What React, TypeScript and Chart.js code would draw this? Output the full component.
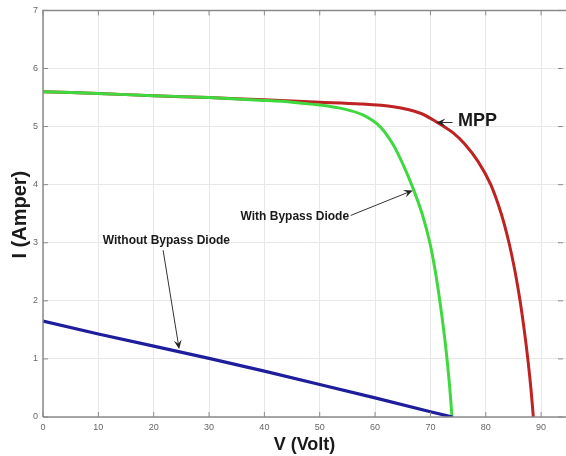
import React, { useEffect, useRef } from "react";
import { Chart, registerables } from "chart.js";

Chart.register(...registerables);

// ---- data ----
const redV = [0, 10, 20, 30, 40, 50, 57.3, 63.3, 68.2, 71.1, 74.0, 76.2, 78.6, 80.9, 82.8, 84.2, 85.3, 86.2, 86.95, 87.6, 88.15, 88.6];
const redI = [5.6, 5.57, 5.53, 5.5, 5.46, 5.42, 5.39, 5.34, 5.23, 5.08, 4.9, 4.7, 4.4, 4.0, 3.5, 3.0, 2.5, 2.0, 1.5, 1.0, 0.5, 0];

const greenV = [0, 10, 20, 30, 40, 45, 50, 54.5, 57.8, 60.9, 63.2, 64.8, 66.6, 68.5, 69.9, 70.9, 71.7, 72.4, 73.0, 73.5, 73.9];
const greenI = [5.6, 5.57, 5.53, 5.5, 5.45, 5.42, 5.37, 5.3, 5.2, 5.0, 4.7, 4.4, 4.0, 3.5, 3.0, 2.5, 2.0, 1.5, 1.0, 0.5, 0];

const blueV = [0, 10, 20, 30, 40, 50, 60, 70, 74];
const blueI = [1.65, 1.43, 1.22, 1.01, 0.79, 0.56, 0.33, 0.09, 0];

const xTicks = [0, 10, 20, 30, 40, 50, 60, 70, 80, 90];
const yTicks = [0, 1, 2, 3, 4, 5, 6, 7];

const xTitle = "V (Volt)";
const yTitle = "I (Amper)";

// annotation texts: [text, V, I, align, fontSize]
const labels: [string, number, number, CanvasTextAlign, number][] = [
  ["MPP", 75.0, 5.09, "left", 18],
  ["With Bypass Diode", 45.5, 3.44, "center", 12],
  ["Without Bypass Diode", 22.3, 3.04, "center", 12],
];
// arrows: [fromV, fromI, toV, toI]
const arrows: [number, number, number, number][] = [
  [74.0, 5.07, 71.1, 5.07],
  [55.6, 3.47, 66.8, 3.9],
  [21.7, 2.87, 24.6, 1.17],
];

const toXY = (vs: number[], is: number[]) => vs.map((v, k) => ({ x: v, y: is[k] }));

const overlay = {
  id: "overlay",
  afterDatasetsDraw(chart: any) {
    const { ctx, chartArea: a, scales } = chart;
    const xs = scales.x, ys = scales.y;
    ctx.save();
    // frame
    ctx.strokeStyle = "#8a8a8a";
    ctx.lineWidth = 1.5;
    ctx.beginPath();
    ctx.moveTo(a.left, a.bottom);
    ctx.lineTo(a.left, a.top);
    ctx.lineTo(a.right, a.top);
    ctx.moveTo(a.left, a.bottom);
    ctx.lineTo(a.right, a.bottom);
    ctx.stroke();
    // inward ticks
    ctx.lineWidth = 1;
    ctx.strokeStyle = "#8a8a8a";
    ctx.beginPath();
    xTicks.forEach((t) => {
      const px = xs.getPixelForValue(t);
      ctx.moveTo(px, a.bottom);
      ctx.lineTo(px, a.bottom - 5);
      ctx.moveTo(px, a.top);
      ctx.lineTo(px, a.top + 5);
    });
    yTicks.forEach((t) => {
      const py = ys.getPixelForValue(t);
      ctx.moveTo(a.left, py);
      ctx.lineTo(a.left + 5, py);
      ctx.moveTo(a.right - 3, py);
      ctx.lineTo(a.right - 8, py);
    });
    ctx.stroke();

    // arrows
    ctx.strokeStyle = "#333";
    ctx.fillStyle = "#222";
    ctx.lineWidth = 1;
    arrows.forEach(([v0, i0, v1, i1]) => {
      const x0 = xs.getPixelForValue(v0), y0 = ys.getPixelForValue(i0);
      const x1 = xs.getPixelForValue(v1), y1 = ys.getPixelForValue(i1);
      const ang = Math.atan2(y1 - y0, x1 - x0);
      ctx.beginPath();
      ctx.moveTo(x0, y0);
      ctx.lineTo(x1 - 4 * Math.cos(ang), y1 - 4 * Math.sin(ang));
      ctx.stroke();
      const L = 9, W = 4;
      ctx.beginPath();
      ctx.moveTo(x1, y1);
      ctx.lineTo(x1 - L * Math.cos(ang) + W * Math.sin(ang), y1 - L * Math.sin(ang) - W * Math.cos(ang));
      ctx.lineTo(x1 - 0.6 * L * Math.cos(ang), y1 - 0.6 * L * Math.sin(ang));
      ctx.lineTo(x1 - L * Math.cos(ang) - W * Math.sin(ang), y1 - L * Math.sin(ang) + W * Math.cos(ang));
      ctx.closePath();
      ctx.fill();
    });

    // labels
    ctx.fillStyle = "#1a1a1a";
    ctx.textBaseline = "middle";
    labels.forEach(([txt, v, i, al, fs]) => {
      ctx.font = `bold ${fs}px "Liberation Sans", Arial, sans-serif`;
      ctx.textAlign = al;
      ctx.fillText(txt, xs.getPixelForValue(v), ys.getPixelForValue(i));
    });

    // axis titles
    ctx.font = 'bold 18px "Liberation Sans", Arial, sans-serif';
    ctx.textAlign = "center";
    ctx.fillText(xTitle, (a.left + a.right) / 2, a.bottom + 28);
    ctx.save();
    ctx.translate(20, (a.top + a.bottom) / 2 + 1);
    ctx.rotate(-Math.PI / 2);
    ctx.font = 'bold 20px "Liberation Sans", Arial, sans-serif';
    ctx.fillText(yTitle, 0, 0);
    ctx.restore();
    ctx.restore();
  },
};

export default function App() {
  const ref = useRef<HTMLCanvasElement | null>(null);
  useEffect(() => {
    if (!ref.current) return;
    const chart = new Chart(ref.current, {
      type: "line",
      data: {
        datasets: [
          { label: "Without Bypass Diode", data: toXY(blueV, blueI), borderColor: "#1e1e9c", borderWidth: 3.2, pointRadius: 0, tension: 0, fill: false },
          { label: "With Bypass Diode", data: toXY(greenV, greenI), borderColor: "#3fd83f", borderWidth: 3, pointRadius: 0, tension: 0.3, fill: false },
          { label: "MPP", data: toXY(redV, redI), borderColor: "#bf2222", borderWidth: 3, pointRadius: 0, tension: 0.3, fill: false },
        ],
      },
      options: {
        responsive: false,
        animation: false,
        events: [],
        layout: { padding: { top: 10, right: 0, left: 0, bottom: 0 } },
        plugins: { legend: { display: false }, tooltip: { enabled: false }, title: { display: false } },
        scales: {
          x: {
            type: "linear",
            min: 0,
            max: 94.5,
            afterBuildTicks: (s: any) => { s.ticks = xTicks.map((v) => ({ value: v })); },
            afterFit: (s: any) => { s.height = 39; },
            grid: { color: "#e8e8e8", drawTicks: false, lineWidth: 1 },
            border: { display: false },
            ticks: { color: "#666", font: { size: 9, family: '"Liberation Sans", Arial, sans-serif' }, padding: 5, maxRotation: 0, autoSkip: false },
          },
          y: {
            type: "linear",
            min: 0,
            max: 7,
            afterBuildTicks: (s: any) => { s.ticks = yTicks.map((v) => ({ value: v })); },
            afterFit: (s: any) => { s.width = 43; },
            grid: { color: "#e8e8e8", drawTicks: false, lineWidth: 1 },
            border: { display: false },
            ticks: { color: "#666", font: { size: 9, family: '"Liberation Sans", Arial, sans-serif' }, padding: 5, autoSkip: false },
          },
        },
      },
      plugins: [overlay],
    } as any);
    return () => chart.destroy();
  }, []);
  return (
    <div style={{ position: "absolute", left: 0, top: 0, width: 566, height: 456, background: "#fff" }}>
      <canvas ref={ref} width={566} height={456} style={{ display: "block" }} />
    </div>
  );
}
